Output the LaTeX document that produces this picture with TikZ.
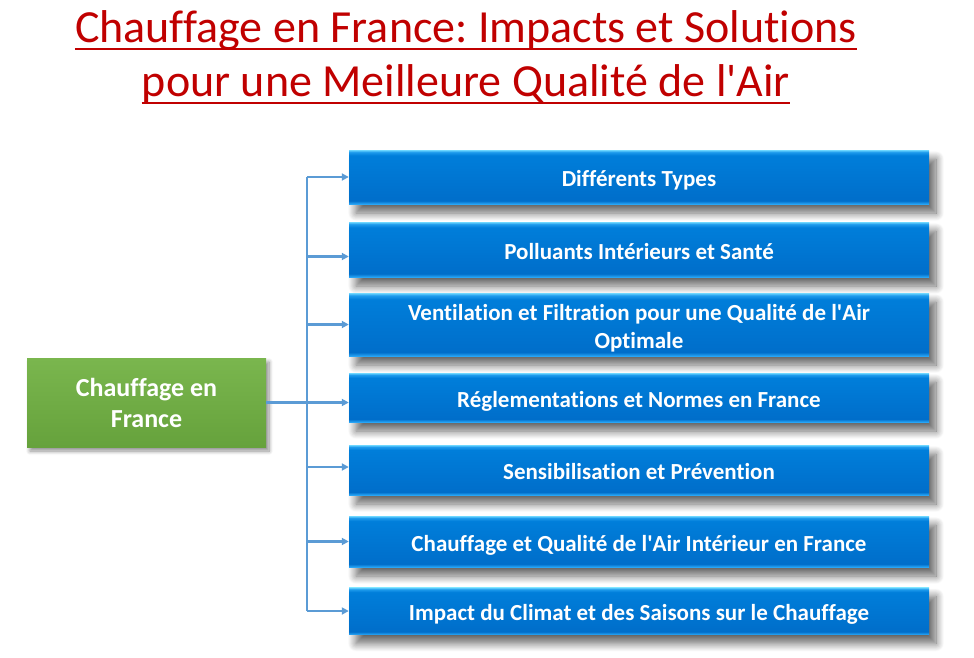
\documentclass[tikz,border=0pt]{standalone}
\usepackage{fontspec}
\setmainfont{Carlito}[Ligatures={NoCommon}]
\frenchspacing
\usetikzlibrary{shadows.blur,arrows.meta}
\newcommand{\apos}{\textquotesingle}
\definecolor{titlered}{RGB}{192,0,0}
\definecolor{conn}{RGB}{91,155,213}
\definecolor{bLo}{RGB}{40,165,245}
\definecolor{bBot}{RGB}{0,110,202}
\definecolor{bTop}{RGB}{0,126,218}
\definecolor{bHi}{RGB}{30,155,236}
\definecolor{bHi2}{RGB}{110,215,255}
\definecolor{gTop}{RGB}{122,182,78}
\definecolor{gBot}{RGB}{102,162,60}
\pgfdeclareverticalshading{bluebevel}{100bp}{color(0bp)=(bLo); color(25bp)=(bLo); color(28bp)=(bBot); color(70bp)=(bTop); color(73bp)=(bHi); color(75bp)=(bHi2); color(100bp)=(bHi2)}
\tikzset{
  bluebox/.style={shading=bluebevel, shade, minimum width=580pt, inner sep=0pt, text=white,
    font=\bfseries\fontsize{23}{28}\selectfont, align=center, text height=24pt, text depth=5pt,
    blur shadow={shadow xshift=7pt, shadow yshift=-9pt, shadow blur radius=8pt, shadow blur steps=12, shadow opacity=60}},
  greenbox/.style={top color=gTop, bottom color=gBot, minimum width=239pt, minimum height=89pt, inner sep=0pt,
    text=white, font=\bfseries\fontsize{26}{31}\selectfont, align=center,
    blur shadow={shadow xshift=3pt, shadow yshift=-4pt, shadow blur radius=4pt, shadow blur steps=8, shadow opacity=45}},
  titletext/.style={text=titlered, font=\fontsize{46}{55}\selectfont, inner sep=0pt, anchor=base},
  uline/.style={draw=titlered, line width=2.5pt},
  connline/.style={draw=conn, line width=2.5pt},
  arr/.style={connline, -{Triangle[length=7pt,width=7pt]}}
}
\begin{document}
\begin{tikzpicture}[x=1pt,y=-1pt]
\useasboundingbox (0,0) rectangle (974,658);
% title
\node[titletext] (t1) at (466,43) {Chauffage en France: Impacts et Solutions};
\node[titletext] (t2) at (466,97) {pour une Meilleure Qualité de l\apos Air};
\draw[uline] ([yshift=-6pt]t1.base west) -- ([yshift=-6pt]t1.base east);
\draw[uline] ([yshift=-6pt]t2.base west) -- ([yshift=-6pt]t2.base east);
% boxes
\node[bluebox, minimum height=54pt] (b1) at (639,177) {Différents Types};
\node[bluebox, minimum height=55pt] (b2) at (639,249.5) {Polluants Intérieurs et Santé};
\node[bluebox, minimum height=63pt, text height=52pt] (b3) at (639,324.5) {Ventilation et Filtration pour une Qualité de l\apos Air\\Optimale};
\node[bluebox, minimum height=49pt] (b4) at (639,397.5) {Réglementations et Normes en France};
\node[bluebox, minimum height=50pt] (b5) at (639,470) {Sensibilisation et Prévention};
\node[bluebox, minimum height=51pt] (b6) at (639,541.5) {Chauffage et Qualité de l\apos Air Intérieur en France};
\node[bluebox, minimum height=47pt] (b7) at (639,611) {Impact du Climat et des Saisons sur le Chauffage};
\node[greenbox] (g) at (146.5,402.5) {Chauffage en\\France};
% connectors
\coordinate (bus) at (307,403);
\draw[connline] (bus |- b1.west) -- (bus |- b7.west);
\draw[arr] (g.east) -- (g.east -| b4.west);
\draw[arr] (bus |- b1.west) -- (b1.west);
\draw[arr] ([yshift=-7pt]bus |- b2.west) -- ([yshift=-7pt]b2.west);
\draw[arr] (bus |- b3.west) -- (b3.west);
\draw[arr] ([yshift=3pt]bus |- b5.west) -- ([yshift=3pt]b5.west);
\draw[arr] (bus |- b6.west) -- (b6.west);
\draw[arr] (bus |- b7.west) -- (b7.west);
\end{tikzpicture}
\end{document}
